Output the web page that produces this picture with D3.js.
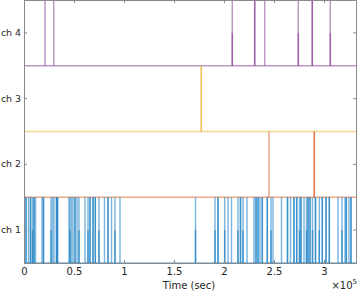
<!DOCTYPE html>
<html>
<head>
<meta charset="utf-8">
<script src="https://cdn.jsdelivr.net/npm/d3@7"></script>
<style>
  body { margin: 0; background: #fff; }
  text { font-family: "DejaVu Sans", sans-serif; fill: #262626; }
</style>
</head>
<body>
<div id="chart"></div>
<script>
// channels, top to bottom
const channels = ['ch 4', 'ch 3', 'ch 2', 'ch 1'];
const colors = { 'ch 1': '#0072BD', 'ch 2': '#D95319', 'ch 3': '#EDB120', 'ch 4': '#7E2F8E' };

// pulse times (sec) and how far a second stroke overlaps (0, 0.5 or 1)
const ch1Times = [2000, 4500, 6500, 8500, 10000, 11500, 18000, 19500, 27000, 28500, 30000, 32500, 33500,
    45000, 46000, 47500, 49000, 51000, 53000, 55000, 61000, 64000, 66000, 69000, 71300, 75000, 80500,
    84000, 87500, 91000, 96000, 171500, 191000, 194000, 200700, 204000, 207500, 214000, 216500, 219000,
    223000, 230000, 232000, 234000, 236000, 238300, 243300, 247000, 249000, 257500, 263500, 266500,
    270000, 272700, 275500, 277000, 280000, 282500, 284000, 286000, 288500, 291500, 295300, 298300,
    302000, 305300, 314000, 318000, 321000, 322300, 325000, 327000];
const ch1Overlap = [1, 0, 1, 0.5, 1, 0, 0, 1, 0.5, 0, 0, 1, 1,
    0, 0.5, 0, 0, 1, 0, 0.5, 0, 0.5, 1, 1, 1, 0.5, 0,
    1, 0, 0.5, 0, 0.5, 0.5, 1, 0.5, 0, 0, 0.5, 1, 0.5,
    0, 0, 1, 1, 0, 1, 1, 0.5, 0, 0, 1, 0,
    1, 1, 0.5, 1, 0, 0.5, 1, 1, 0.5, 1, 0.5, 1,
    1, 1, 0, 0.5, 0, 1, 0, 1];
const ch2Times = [245000, 290300];
const ch2Overlap = [0, 1];
const ch3Times = [177300];
const ch3Overlap = [1];
const ch4Times = [21000, 29700, 208300, 230700, 240700, 274300, 288300, 306300];
const ch4Overlap = [0, 0, 0.5, 1, 0, 0.5, 1, 0.5];

const xTicks = [0, 50000, 100000, 150000, 200000, 250000, 300000];
const xTickLabels = ['0', '0.5', '1', '1.5', '2', '2.5', '3'];

const series = {
    'ch 1': { times: ch1Times, overlap: ch1Overlap },
    'ch 2': { times: ch2Times, overlap: ch2Overlap },
    'ch 3': { times: ch3Times, overlap: ch3Overlap },
    'ch 4': { times: ch4Times, overlap: ch4Overlap }
};

const W = 357, H = 292;
const margin = { top: 0, right: 1, bottom: 29, left: 24 };
const width = W - margin.left - margin.right;
const height = H - margin.top - margin.bottom;

const svg = d3.select('#chart').append('svg')
    .attr('width', W)
    .attr('height', H);

const g = svg.append('g')
    .attr('transform', `translate(${margin.left},${margin.top})`);

const x = d3.scaleLinear().domain([0, 332000]).range([0, width]);
const row = d3.scaleBand().domain(channels).range([0, height]).padding(0);
const level = d3.scaleLinear().domain([0, 1]).range([row.bandwidth(), 0]);

// traces
channels.forEach(ch => {
    const s = series[ch];
    const lane = g.append('g').attr('transform', `translate(0,${row(ch)})`);
    const color = colors[ch];

    lane.append('line')
        .attr('x1', x(0)).attr('x2', x(332000))
        .attr('y1', level(0)).attr('y2', level(0))
        .attr('stroke', color).attr('stroke-opacity', 0.5).attr('stroke-width', 1.5);

    lane.selectAll('.pulse')
        .data(s.times)
        .enter().append('line')
        .attr('class', 'pulse')
        .attr('x1', d => x(d)).attr('x2', d => x(d))
        .attr('y1', level(0)).attr('y2', level(1))
        .attr('stroke', color).attr('stroke-opacity', 0.5).attr('stroke-width', 1.5);

    lane.selectAll('.over')
        .data(s.times.map((t, i) => ({ t, v: s.overlap[i] })).filter(d => d.v > 0))
        .enter().append('line')
        .attr('class', 'over')
        .attr('x1', d => x(d.t)).attr('x2', d => x(d.t))
        .attr('y1', level(0)).attr('y2', d => level(d.v))
        .attr('stroke', color).attr('stroke-opacity', 0.55).attr('stroke-width', 1.5);
});

// axes
const axisColor = '#8a8a8a';
const xAxisBottom = g.append('g')
    .attr('transform', `translate(0,${height})`)
    .call(d3.axisBottom(x).tickValues(xTicks).tickFormat((d, i) => xTickLabels[i]).tickSizeInner(-3).tickSizeOuter(0).tickPadding(6));
const xAxisTop = g.append('g')
    .call(d3.axisTop(x).tickValues(xTicks).tickFormat('').tickSizeInner(-3).tickSizeOuter(0));
const yAxisLeft = g.append('g')
    .call(d3.axisLeft(row).tickSizeInner(-3).tickSizeOuter(0));
const yAxisRight = g.append('g')
    .attr('transform', `translate(${width},0)`)
    .call(d3.axisRight(row).tickFormat('').tickSizeInner(-3).tickSizeOuter(0));

[xAxisBottom, xAxisTop, yAxisLeft, yAxisRight].forEach(a => {
    a.select('.domain').attr('stroke', axisColor);
    a.selectAll('.tick line').attr('stroke', axisColor);
    a.selectAll('.tick text').attr('fill', '#262626').style('font-size', '10px');
});
xAxisBottom.selectAll('.tick text').attr('dy', '0.6em');
// inward ticks push the labels; keep them just left of the axis line
yAxisLeft.selectAll('.tick text').attr('x', -3).style('font-size', '9.4px');

g.append('text')
    .attr('x', width / 2 - 1)
    .attr('y', height + 26)
    .attr('text-anchor', 'middle')
    .style('font-size', '10px')
    .text('Time (sec)');

const exp = g.append('text')
    .attr('x', width + 1)
    .attr('y', height + 26)
    .attr('text-anchor', 'end')
    .style('font-size', '10px');
exp.append('tspan').text('×10');
exp.append('tspan').attr('dy', -5).style('font-size', '7px').text('5');
</script>
</body>
</html>
